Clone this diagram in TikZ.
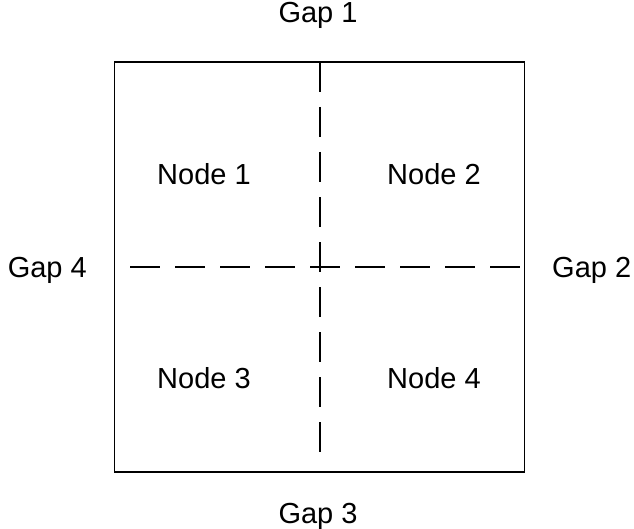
\documentclass[tikz,border=0pt]{standalone}
\usepackage{fontspec}
\setmainfont{Liberation Sans}
\begin{document}
\begin{tikzpicture}[x=1bp,y=-1bp,
  lbl/.style={font=\fontsize{29bp}{34bp}\selectfont, inner sep=0pt, anchor=base},
  frame/.style={draw=black, line width=1.2bp},
  divider/.style={draw=black, line width=1.6bp, dash pattern=on 30bp off 15bp}]
\useasboundingbox (0,0) rectangle (634,529);
\node[frame, minimum width=410bp, minimum height=410bp, inner sep=0pt] (box) at (319.5,267) {};
\coordinate (vtop) at (320,62);
\coordinate (vbot) at (320,457);
\coordinate (hl) at (130,267);
\coordinate (hr) at (box.east);
\draw[divider] (vtop) -- (vbot);
\draw[divider] (hl) -- (hr);
\node[lbl] (g1) at (318,23) {Gap 1};
\node[lbl, anchor=base west] (g2) at (552,277) {Gap 2};
\node[lbl] (g3) at (318,523) {Gap 3};
\node[lbl, anchor=base east] (g4) at (87,277) {Gap 4};
\node[lbl] (n1) at (204,185) {Node 1};
\node[lbl] (n2) at (434,185) {Node 2};
\node[lbl] (n3) at (204,388) {Node 3};
\node[lbl] (n4) at (434,388) {Node 4};
\end{tikzpicture}
\end{document}
